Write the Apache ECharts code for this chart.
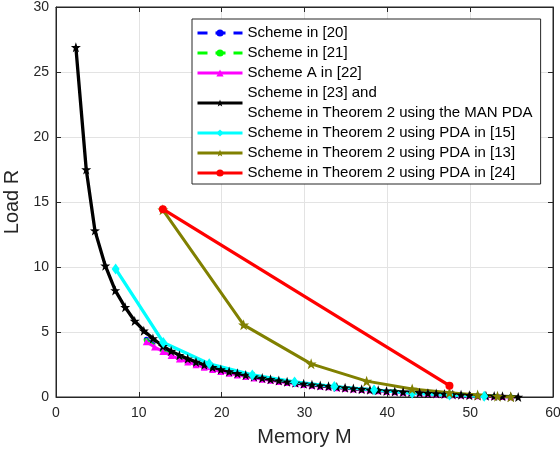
<!DOCTYPE html>
<html>
<head>
<meta charset="utf-8">
<script src="https://cdn.jsdelivr.net/npm/echarts@6/dist/echarts.min.js"></script>
<style>
  html, body { margin: 0; padding: 0; background: #fff; }
  #chart { width: 560px; height: 455px; }
</style>
</head>
<body>
<div id="chart"></div>
<script>
// x ticks / y ticks
var xTicks = [0, 10, 20, 30, 40, 50, 60];
var yTicks = [0, 5, 10, 15, 20, 25, 30];

// Scheme in [20] (blue, dashed)
var blueM = [10.9, 12.9, 14.9, 16.9, 18.9, 20.9, 22.9, 24.9, 26.9, 28.9, 30.9, 32.9, 34.9, 36.9, 38.9, 40.9, 42.9, 44.9, 46.9, 48.9, 50.9, 52.9, 54.9];
var blueR = [4.45, 3.62, 3.02, 2.56, 2.19, 1.88, 1.63, 1.41, 1.23, 1.07, 0.93, 0.81, 0.70, 0.60, 0.51, 0.43, 0.35, 0.28, 0.22, 0.16, 0.11, 0.06, 0.01];

// Scheme in [21] (green, dashed)
var greenM = [10.9, 12.9, 14.9, 16.9, 18.9, 20.9, 22.9, 24.9, 26.9, 28.9, 30.9, 32.9, 34.9, 36.9, 38.9, 40.9, 42.9, 44.9, 46.9, 48.9, 50.9, 52.9, 54.9];
var greenR = [4.35, 3.56, 2.97, 2.52, 2.15, 1.85, 1.60, 1.39, 1.21, 1.05, 0.91, 0.79, 0.68, 0.58, 0.50, 0.42, 0.34, 0.27, 0.21, 0.16, 0.10, 0.06, 0.01];

// Scheme A in [22] (magenta)
var magM = [10.9, 11.9, 12.9, 13.9, 14.9, 15.9, 16.9, 17.9, 18.9, 19.9, 20.9, 21.9, 22.9, 23.9, 24.9, 25.9, 26.9, 27.9, 28.9, 29.9,
            30.9, 31.9, 32.9, 33.9, 34.9, 35.9, 36.9, 37.9, 38.9, 39.9, 40.9, 41.9, 42.9, 43.9, 44.9, 45.9, 46.9, 47.9, 48.9, 49.9,
            50.9, 51.9, 52.9, 53.9, 54.9];
var magR = [4.25, 3.85, 3.50, 3.19, 2.92, 2.69, 2.48, 2.29, 2.12, 1.96, 1.82, 1.70, 1.58, 1.47, 1.37, 1.28, 1.19, 1.11, 1.03, 0.96,
            0.90, 0.83, 0.78, 0.72, 0.67, 0.62, 0.57, 0.53, 0.49, 0.44, 0.41, 0.37, 0.34, 0.30, 0.27, 0.24, 0.21, 0.18, 0.15, 0.13,
            0.10, 0.08, 0.06, 0.03, 0.01];

// Scheme in [23] and Theorem 2 with MAN PDA (black)
var blackM = [2.4, 3.65, 4.7, 5.95, 7.15, 8.35, 9.5, 10.6, 11.7, 12.9,
              13.9, 14.9, 15.9, 16.9, 17.9, 18.9, 19.9, 20.9, 21.9, 22.9, 23.9, 24.9, 25.9, 26.9, 27.9, 28.9, 29.9,
              30.9, 31.9, 32.9, 33.9, 34.9, 35.9, 36.9, 37.9, 38.9, 39.9, 40.9, 41.9, 42.9, 43.9, 44.9, 45.9, 46.9,
              47.9, 48.9, 49.9, 50.9, 51.9, 52.9, 53.9, 54.9, 55.8];
var blackR = [26.9, 17.5, 12.8, 10.1, 8.2, 6.9, 5.85, 5.1, 4.5, 3.9,
              3.53, 3.22, 2.94, 2.70, 2.48, 2.29, 2.12, 1.96, 1.82, 1.69, 1.57, 1.46, 1.36, 1.26, 1.18, 1.09, 1.02,
              0.95, 0.88, 0.82, 0.76, 0.71, 0.65, 0.60, 0.56, 0.51, 0.47, 0.43, 0.39, 0.36, 0.32, 0.29, 0.26, 0.23,
              0.20, 0.17, 0.14, 0.12, 0.09, 0.07, 0.05, 0.02, 0];

// Theorem 2 with PDA in [15] (cyan)
var cyanM = [7.2, 12.95, 18.5, 23.7, 28.8, 33.6, 38.4, 43.0, 47.5, 51.7];
var cyanR = [9.85, 4.2, 2.55, 1.7, 1.16, 0.8, 0.54, 0.28, 0.15, 0.05];

// Theorem 2 with PDA in [13] (olive)
var oliveM = [12.9, 22.65, 30.8, 37.5, 43.0, 47.5, 50.9, 53.3, 54.9];
var oliveR = [14.4, 5.55, 2.55, 1.22, 0.62, 0.33, 0.15, 0.06, 0.01];

// Theorem 2 with PDA in [24] (red)
var redM = [12.9, 47.5];
var redR = [14.45, 0.87];

var names = [
  'Scheme in [20]',
  'Scheme in [21]',
  'Scheme A in [22]',
  'Scheme in [23] and\nScheme in Theorem 2 using the MAN PDA',
  'Scheme in Theorem 2 using PDA in [15]',
  'Scheme in Theorem 2 using PDA in [13]',
  'Scheme in Theorem 2 using PDA in [24]'
];

function pairs(xs, ys) {
  return xs.map(function (x, i) { return [x, ys[i]]; });
}

var star = 'path://M50 0L61.76 33.82L97.55 34.55L69.02 56.18L79.39 90.45L50 70L20.61 90.45L30.98 56.18L2.45 34.55L38.24 33.82Z';
var font = 'Liberation Sans, Arial, Helvetica, sans-serif';
var axisColor = '#262626';

var myChart = echarts.init(document.getElementById('chart'), null, { renderer: 'canvas' });

var option = {
  animation: false,
  backgroundColor: '#fff',
  textStyle: { fontFamily: font },
  grid: {
    left: 56, right: 7, top: 7, bottom: 58,
    show: true, borderColor: axisColor, borderWidth: 1, backgroundColor: 'transparent',
    containLabel: false, outerBoundsMode: 'none'
  },
  legend: {
    orient: 'vertical',
    left: 192, top: 19,
    padding: [4, 8, 1, 4],
    itemGap: 0,
    itemWidth: 45, itemHeight: 9,
    lineStyle: { width: 3 },
    backgroundColor: '#fff',
    borderColor: axisColor, borderWidth: 1,
    textStyle: { fontSize: 15, lineHeight: 20, color: '#000', fontFamily: font },
    data: names
  },
  xAxis: [
    {
      type: 'value', min: xTicks[0], max: xTicks[xTicks.length - 1], interval: 10,
      name: 'Memory M', nameLocation: 'middle', nameGap: 30,
      nameTextStyle: { fontSize: 20, color: axisColor, fontFamily: font },
      axisLine: { show: true, onZero: false, lineStyle: { color: axisColor, width: 1 } },
      axisTick: { show: true, inside: true, length: 5, lineStyle: { color: axisColor } },
      axisLabel: { fontSize: 14, color: axisColor, margin: 9, fontFamily: font },
      splitLine: { show: true, lineStyle: { color: '#e3e3e3', width: 1 } }
    },
    {
      type: 'value', position: 'top', min: xTicks[0], max: xTicks[xTicks.length - 1], interval: 10,
      axisLine: { show: true, onZero: false, lineStyle: { color: axisColor } },
      axisTick: { show: true, inside: true, length: 5, lineStyle: { color: axisColor } },
      axisLabel: { show: false }, splitLine: { show: false }
    }
  ],
  yAxis: [
    {
      type: 'value', min: yTicks[0], max: yTicks[yTicks.length - 1], interval: 5,
      name: 'Load R', nameLocation: 'middle', nameGap: 29, nameRotate: 90,
      nameTextStyle: { fontSize: 20, color: axisColor, fontFamily: font },
      axisLine: { show: true, onZero: false, lineStyle: { color: axisColor, width: 1 } },
      axisTick: { show: true, inside: true, length: 5, lineStyle: { color: axisColor } },
      axisLabel: { fontSize: 14, color: axisColor, margin: 7, fontFamily: font },
      splitLine: { show: true, lineStyle: { color: '#e3e3e3', width: 1 } }
    },
    {
      type: 'value', position: 'right', min: yTicks[0], max: yTicks[yTicks.length - 1], interval: 5,
      axisLine: { show: true, onZero: false, lineStyle: { color: axisColor } },
      axisTick: { show: true, inside: true, length: 5, lineStyle: { color: axisColor } },
      axisLabel: { show: false }, splitLine: { show: false }
    }
  ],
  series: [
    {
      name: names[0], type: 'line', data: pairs(blueM, blueR),
      color: '#0000ff', symbol: 'circle', symbolSize: 5,
      lineStyle: { width: 3, type: [10, 8] }
    },
    {
      name: names[1], type: 'line', data: pairs(greenM, greenR),
      color: '#00ff00', symbol: 'circle', symbolSize: 5,
      lineStyle: { width: 3, type: [10, 8] }
    },
    {
      name: names[2], type: 'line', data: pairs(magM, magR),
      color: '#ff00ff', symbol: 'triangle', symbolSize: 7,
      lineStyle: { width: 3 }
    },
    {
      name: names[3], type: 'line', data: pairs(blackM, blackR),
      color: '#000000', symbol: star, symbolSize: 10,
      lineStyle: { width: 3.3 }
    },
    {
      name: names[4], type: 'line', data: pairs(cyanM, cyanR),
      color: '#00ffff', symbol: 'diamond', symbolSize: [8, 11],
      lineStyle: { width: 3.3 }
    },
    {
      name: names[5], type: 'line', data: pairs(oliveM, oliveR),
      color: '#808000', symbol: star, symbolSize: 11,
      lineStyle: { width: 3 }
    },
    {
      name: names[6], type: 'line', data: pairs(redM, redR),
      color: '#ff0000', symbol: 'circle', symbolSize: 8,
      lineStyle: { width: 3.3 }
    }
  ]
};

myChart.setOption(option);
</script>
</body>
</html>
